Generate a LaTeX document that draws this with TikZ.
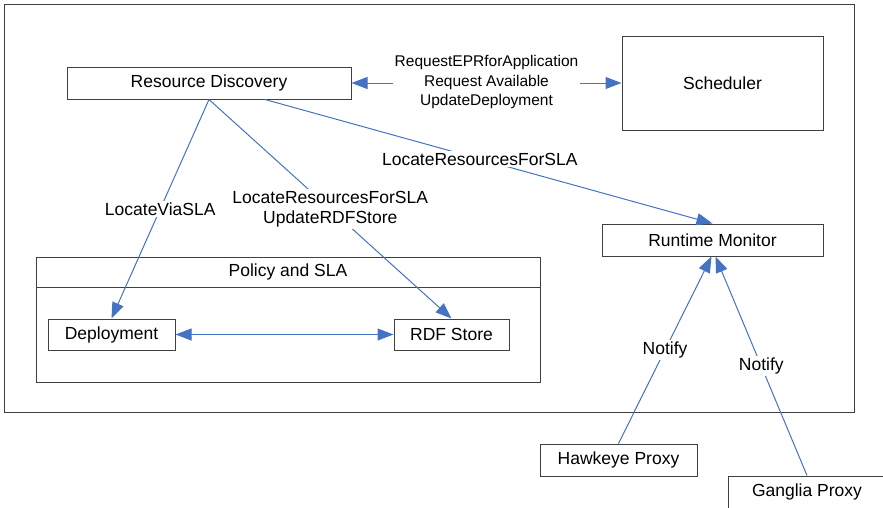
\documentclass[tikz,border=0pt]{standalone}
\usepackage{fontspec}
\setmainfont{Liberation Sans}
\usepackage{xcolor}
\usetikzlibrary{arrows.meta, positioning}
\definecolor{linkblue}{RGB}{68,114,196}
\definecolor{boxgray}{RGB}{64,64,64}

\begin{document}
\begin{tikzpicture}[x=1pt, y=-1pt,
    arr/.style={-{Triangle[length=16pt, width=12pt]}, line width=1pt, linkblue},
    dblarr/.style={{Triangle[length=16pt, width=12pt]}-{Triangle[length=16pt, width=12pt]}, line width=1pt, linkblue},
    every node/.style={font=\fontsize{17.5}{19.5}\selectfont, align=center, inner sep=0pt},
    box/.style={draw=boxgray, line width=1pt, rectangle},
    lbl/.style={fill=white, text=black, inner sep=2pt},
]
\useasboundingbox (0,0) rectangle (883,507);

\node[box, minimum width=850, minimum height=408] (frame) at (429,208) {};
\node[box, minimum width=284, minimum height=32] (rd) at (209,83) {Resource Discovery};
\node[box, minimum width=201, minimum height=94] (sched) at (722.5,83) {Scheduler};
\node[box, minimum width=221, minimum height=32] (rtm) at (712.5,240) {Runtime Monitor};
\node[box, minimum width=504, minimum height=30] (policyhead) at (288,272) {Policy and SLA};
\node[box, minimum width=504, minimum height=125, anchor=north] (policy) at (policyhead.north) {};
\node[box, minimum width=127, minimum height=31] (dep) at (111.5,334.5) {Deployment};
\node[box, minimum width=115, minimum height=31] (rdf) at (451.5,334.5) {RDF Store};
\node[box, minimum width=157, minimum height=32] (hawk) at (618.5,460) {Hawkeye Proxy};
\node[box, minimum width=158, minimum height=32] (gang) at (807,492) {Ganglia Proxy};

\draw[dblarr] (rd.east) -- node[lbl, font=\fontsize{15.5}{19.5}\selectfont, yshift=1pt] {RequestEPRforApplication\\Request Available\\UpdateDeployment} (sched.west);
\draw[arr] (rd.south) -- node[lbl] {LocateViaSLA} (dep.north);
\draw[arr] (rd.south) -- node[lbl] {LocateResourcesForSLA\\UpdateRDFStore} (rdf.north);
\draw[arr] ([xshift=56pt]rd.south) -- node[lbl, pos=0.48] {LocateResourcesForSLA} (rtm.north);
\draw[dblarr] (dep.east) -- (rdf.west);
\draw[arr] (hawk.north) -- node[lbl] {Notify} ([xshift=-1pt]rtm.south);
\draw[arr] (gang.north) -- node[lbl] {Notify} ([xshift=3pt]rtm.south);
\end{tikzpicture}
\end{document}
